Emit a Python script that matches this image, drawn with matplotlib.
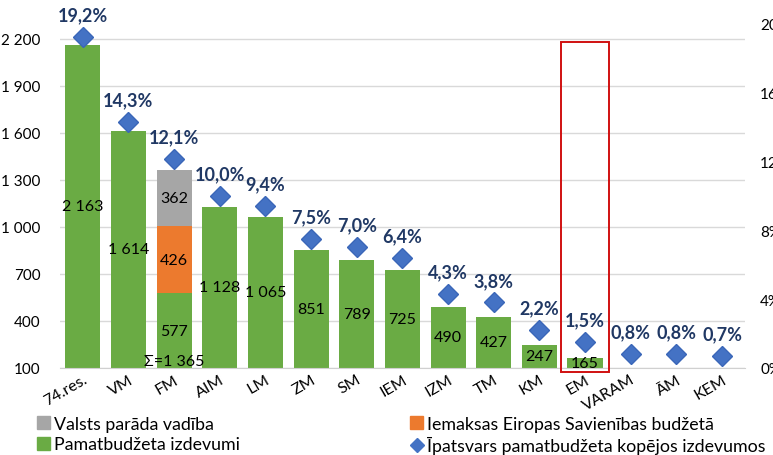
import numpy as np
import matplotlib.pyplot as plt
from matplotlib.patches import Patch, Rectangle
from matplotlib.lines import Line2D
from matplotlib.ticker import FuncFormatter

plt.rcParams['font.family'] = ['Lato', 'DejaVu Sans']

# Dati
kategorijas = ['74.res.', 'VM', 'FM', 'AIM', 'LM', 'ZM', 'SM', 'IEM', 'IZM', 'TM',
               'KM', 'EM', 'VARAM', 'ĀM', 'KEM']
pamatbudzets = [2163, 1614, 577, 1128, 1065, 851, 789, 725, 490, 427, 247, 165, 92, 88, 77]
es_iemaksas = [0, 0, 426, 0, 0, 0, 0, 0, 0, 0, 0, 0, 0, 0, 0]
parada_vadiba = [0, 0, 362, 0, 0, 0, 0, 0, 0, 0, 0, 0, 0, 0, 0]
ipatsvars = [19.2, 14.3, 12.1, 10.0, 9.4, 7.5, 7.0, 6.4, 4.3, 3.8, 2.2, 1.5, 0.8, 0.8, 0.7]
izcelts = 'EM'

zals = '#6aab44'
oranzs = '#ec7a2e'
peleks = '#a6a6a6'
zils = '#4472c4'
tumsi_zils = '#203864'


def fmt_sk(v):
    return f'{int(v):,}'.replace(',', ' ')


fig = plt.figure(figsize=(7.73, 4.56), dpi=100)
ax = fig.add_axes([0.0776, 0.1908, 0.886, 0.756])

x = np.arange(len(kategorijas))
pb = np.array(pamatbudzets)
es = np.array(es_iemaksas)
pv = np.array(parada_vadiba)
w = 0.77

ax.bar(x, pb, width=w, color=zals, zorder=2)
ax.bar(x, es, width=w, bottom=pb, color=oranzs, zorder=2)
ax.bar(x, pv, width=w, bottom=pb + es, color=peleks, zorder=2)

ymin = 100
ax.set_ylim(ymin, 2300)
ax.set_xlim(-0.5, len(x) - 0.5)
ax.set_yticks(np.arange(100, 2201, 300))
ax.yaxis.set_major_formatter(FuncFormatter(lambda v, p: fmt_sk(v)))
ax.grid(axis='y', color='#d9d9d9', linewidth=1, zorder=0)
ax.set_axisbelow(True)
for s in ['top', 'right', 'left']:
    ax.spines[s].set_visible(False)
ax.spines['bottom'].set_color('#d0d0d0')
ax.tick_params(axis='y', length=0, labelsize=11, pad=14)
ax.tick_params(axis='x', length=0, labelsize=11.5, pad=3)
ax.set_xticks(x)
ax.set_xticklabels(kategorijas, rotation=30, ha='right', rotation_mode='anchor')

# vērtības stabiņos
for i in range(len(x)):
    segs = [(0, pb[i]), (pb[i], pb[i] + es[i]), (pb[i] + es[i], pb[i] + es[i] + pv[i])]
    vals = [pb[i], es[i], pv[i]]
    for (lo, hi), v in zip(segs, vals):
        if v > 0 and hi > ymin:
            ax.text(i, (max(lo, ymin) + hi) / 2, fmt_sk(v), ha='center', va='center',
                    fontsize=11.5, color='black', zorder=4)
    if es[i] + pv[i] > 0:
        ax.text(i, ymin + 2, 'Σ=' + fmt_sk(pb[i] + es[i] + pv[i]), ha='center',
                va='bottom', fontsize=11.5, zorder=4)

# izceltais EM
j = kategorijas.index(izcelts)
ax.add_patch(Rectangle((j - 0.52, 74), 1.05, 2106, fill=False, edgecolor='#d01010',
                       linewidth=1.4, clip_on=False, zorder=5))

# īpatsvars
ax2 = ax.twinx()
ax2.set_ylim(0, 20)
ax2.set_yticks(np.arange(0, 21, 4))
ax2.yaxis.set_major_formatter(FuncFormatter(lambda v, p: f'{int(v)}%'))
for s in ax2.spines.values():
    s.set_visible(False)
ax2.tick_params(axis='y', length=0, labelsize=11, pad=11)
ax2.plot(x, ipatsvars, linestyle='none', marker='D', markersize=10.5, color=zils,
         markeredgecolor='#3a66b8', zorder=6)
for i, v in enumerate(ipatsvars):
    ax2.annotate(f'{v:.1f}%'.replace('.', ','), (i, v), xytext=(0, 16),
                 textcoords='offset points', ha='center', va='center',
                 fontsize=13, fontweight='bold', color=tumsi_zils)

# leģenda
h1 = [Patch(color=peleks), Patch(color=zals)]
l1 = ['Valsts parāda vadība', 'Pamatbudžeta izdevumi']
h2 = [Patch(color=oranzs),
      Line2D([], [], linestyle='none', marker='D', markersize=7.5, color=zils)]
l2 = ['Iemaksas Eiropas Savienības budžetā', 'Īpatsvars pamatbudžeta kopējos izdevumos']
kw = dict(frameon=False, fontsize=12.8, handlelength=0.75, handleheight=0.75,
          handletextpad=0.2, labelspacing=0.25, borderpad=0, borderaxespad=0,
          loc='upper left')
fig.legend(h1, l1, bbox_to_anchor=(37 / 773, 1 - 417 / 456), **kw)
fig.legend(h2, l2, bbox_to_anchor=(410 / 773, 1 - 417 / 456), **kw)

fig.savefig('out.png', dpi=100)
